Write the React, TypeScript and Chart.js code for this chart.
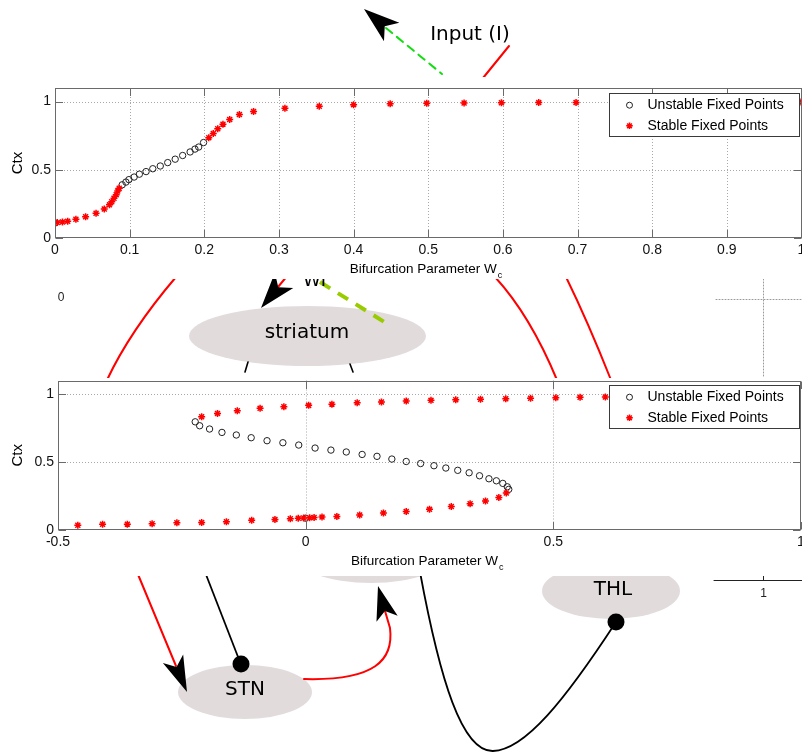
import React, { useEffect, useRef } from "react";
import { Chart, registerables } from "chart.js";

Chart.register(...registerables);

// ---------------- data ----------------
const topUnstableX = [0, 0.09, 0.095, 0.099, 0.106, 0.113, 0.122, 0.131, 0.141, 0.151, 0.161, 0.171, 0.181, 0.1875, 0.1925, 0.199];
const topUnstableY = [0.11, 0.39, 0.41, 0.428, 0.447, 0.468, 0.487, 0.508, 0.528, 0.553, 0.578, 0.605, 0.631, 0.652, 0.667, 0.7];
const topStableX = [0.003, 0.01, 0.017, 0.028, 0.041, 0.055, 0.066, 0.073, 0.076, 0.079, 0.082, 0.084, 0.086, 0.206, 0.212, 0.218, 0.225, 0.234, 0.247, 0.266, 0.308, 0.354, 0.4, 0.449, 0.498, 0.548, 0.598, 0.648, 0.698, 0.748, 0.798, 0.848, 0.898, 0.948, 0.998];
const topStableY = [0.113, 0.117, 0.123, 0.138, 0.156, 0.181, 0.213, 0.243, 0.266, 0.291, 0.318, 0.345, 0.365, 0.736, 0.766, 0.801, 0.835, 0.869, 0.906, 0.928, 0.952, 0.966, 0.978, 0.984, 0.988, 0.99, 0.992, 0.993, 0.994, 0.995, 0.996, 0.996, 0.997, 0.997, 0.998];

const bottomUnstableX = [0, -0.223, -0.214, -0.194, -0.169, -0.14, -0.11, -0.078, -0.046, -0.014, 0.019, 0.051, 0.082, 0.114, 0.144, 0.174, 0.203, 0.232, 0.259, 0.283, 0.307, 0.33, 0.351, 0.37, 0.385, 0.398, 0.407, 0.41];
const bottomUnstableY = [0.087, 0.796, 0.767, 0.743, 0.718, 0.699, 0.679, 0.657, 0.642, 0.625, 0.603, 0.588, 0.574, 0.556, 0.542, 0.522, 0.504, 0.489, 0.473, 0.456, 0.439, 0.421, 0.399, 0.377, 0.362, 0.343, 0.318, 0.299];
const bottomStableX = [-0.46, -0.41, -0.36, -0.31, -0.26, -0.21, -0.16, -0.109, -0.062, -0.031, -0.015, -0.004, 0.008, 0.017, 0.033, 0.063, 0.109, 0.157, 0.203, 0.25, 0.294, 0.332, 0.363, 0.39, 0.405, -0.21, -0.178, -0.138, -0.092, -0.044, 0.006, 0.053, 0.104, 0.153, 0.203, 0.253, 0.303, 0.353, 0.404, 0.454, 0.505, 0.554, 0.605, 0.655, 0.705, 0.755, 0.805, 0.855, 0.905, 0.955, 1.0];
const bottomStableY = [0.035, 0.042, 0.043, 0.046, 0.053, 0.056, 0.061, 0.071, 0.078, 0.083, 0.086, 0.088, 0.09, 0.092, 0.095, 0.1, 0.11, 0.125, 0.136, 0.152, 0.173, 0.194, 0.213, 0.239, 0.272, 0.833, 0.858, 0.877, 0.895, 0.907, 0.917, 0.926, 0.936, 0.942, 0.949, 0.954, 0.958, 0.962, 0.966, 0.969, 0.973, 0.976, 0.979, 0.981, 0.983, 0.985, 0.986, 0.988, 0.989, 0.99, 0.991];

const topXTicks = [0, 0.1, 0.2, 0.3, 0.4, 0.5, 0.6, 0.7, 0.8, 0.9, 1];
const topXTickLabels = ["0", "0.1", "0.2", "0.3", "0.4", "0.5", "0.6", "0.7", "0.8", "0.9", "1"];
const bottomXTicks = [-0.5, 0, 0.5, 1];
const bottomXTickLabels = ["-0.5", "0", "0.5", "1"];
const yTicks = [0, 0.5, 1];
const yTickLabels = ["0", "0.5", "1"];

const legendLabels = ["Unstable Fixed Points", "Stable Fixed Points"];
const xTitleMain = "Bifurcation Parameter W";
const xTitleSub = "c";
const yTitle = "Ctx";

const diagramLabels = { input: "Input (I)", striatum: "striatum", stn: "STN", thl: "THL", w: "WI" };

// ---------------- styling ----------------
const FONT = '"Liberation Sans", Arial, Helvetica, sans-serif';
const DFONT = '"DejaVu Sans", Verdana, sans-serif';
const FRAME = "#6a6a6a";
const ELLIPSE = "#e1dbdc";

const zip = (xs: number[], ys: number[]) => xs.map((x, i) => ({ x, y: ys[i] }));

function drawStar(ctx: CanvasRenderingContext2D, x: number, y: number, r: number) {
  ctx.beginPath();
  ctx.moveTo(x - r, y); ctx.lineTo(x + r, y);
  ctx.moveTo(x, y - r); ctx.lineTo(x, y + r);
  const d = r * 0.707;
  ctx.moveTo(x - d, y - d); ctx.lineTo(x + d, y + d);
  ctx.moveTo(x - d, y + d); ctx.lineTo(x + d, y - d);
  ctx.stroke();
}

function makePlotPlugin(xTicks: number[], tickLen: number) {
  return {
    id: "matlabAxes",
    beforeDraw(chart: any) {
      const ctx = chart.ctx as CanvasRenderingContext2D;
      ctx.save();
      ctx.fillStyle = "#ffffff";
      ctx.fillRect(0, 0, chart.width, chart.height);
      ctx.restore();
    },
    beforeDatasetsDraw(chart: any) {
      const ctx = chart.ctx as CanvasRenderingContext2D;
      const ca = chart.chartArea;
      const xs = chart.scales.x;
      const ys = chart.scales.y;
      ctx.save();
      ctx.strokeStyle = "#a8a8a8";
      ctx.lineWidth = 1;
      ctx.setLineDash([1, 2]);
      for (const v of xTicks) {
        const px = Math.round(xs.getPixelForValue(v)) + 0.5;
        if (px <= ca.left + 1 || px >= ca.right - 1) continue;
        ctx.beginPath(); ctx.moveTo(px, ca.top); ctx.lineTo(px, ca.bottom); ctx.stroke();
      }
      for (const v of yTicks) {
        const py = Math.round(ys.getPixelForValue(v)) + 0.5;
        if (py <= ca.top + 1 || py >= ca.bottom - 1) continue;
        ctx.beginPath(); ctx.moveTo(ca.left, py); ctx.lineTo(ca.right, py); ctx.stroke();
      }
      ctx.restore();
    },
    afterDatasetsDraw(chart: any) {
      const ctx = chart.ctx as CanvasRenderingContext2D;
      const ca = chart.chartArea;
      const xs = chart.scales.x;
      const ys = chart.scales.y;
      ctx.save();
      ctx.strokeStyle = FRAME;
      ctx.lineWidth = 1;
      const l = Math.round(ca.left) + 0.5, r = Math.round(ca.right) - 0.5;
      const t = Math.round(ca.top) + 0.5, b = Math.round(ca.bottom) - 0.5;
      ctx.strokeRect(l, t, r - l, b - t);
      ctx.beginPath();
      for (const v of xTicks) {
        const px = Math.round(xs.getPixelForValue(v)) + 0.5;
        ctx.moveTo(px, b); ctx.lineTo(px, b - tickLen);
        ctx.moveTo(px, t); ctx.lineTo(px, t + tickLen);
      }
      for (const v of yTicks) {
        const py = Math.round(ys.getPixelForValue(v)) + 0.5;
        ctx.moveTo(l, py); ctx.lineTo(l + tickLen, py);
        ctx.moveTo(r, py); ctx.lineTo(r - tickLen, py);
      }
      ctx.stroke();
      ctx.restore();
    },
    afterDraw(chart: any) {
      const ctx = chart.ctx as CanvasRenderingContext2D;
      const ca = chart.chartArea;
      const ds = chart.data.datasets;
      // legend
      ctx.save();
      const bw = 190, bh = 43;
      const bx = Math.round(ca.right - 2.5 - bw) + 0.5;
      const by = Math.round(ca.top + 4.6) + 0.5;
      ctx.fillStyle = "#ffffff";
      ctx.fillRect(bx, by, bw, bh);
      ctx.strokeStyle = "#3a3a3a";
      ctx.lineWidth = 1;
      ctx.strokeRect(bx, by, bw, bh);
      const rows = [by + 11.7, by + 32.3];
      ctx.strokeStyle = ds[0].borderColor;
      ctx.lineWidth = 1;
      ctx.beginPath(); ctx.arc(bx + 20, rows[0], 3, 0, Math.PI * 2); ctx.stroke();
      ctx.strokeStyle = ds[1].borderColor;
      ctx.lineWidth = 1.5;
      drawStar(ctx, bx + 20, rows[1], 3.3);
      ctx.fillStyle = "#000";
      ctx.font = `14px ${FONT}`;
      ctx.textBaseline = "middle";
      ctx.textAlign = "left";
      ctx.fillText(ds[0].label, bx + 38, rows[0]);
      ctx.fillText(ds[1].label, bx + 38, rows[1]);
      // x title with subscript
      ctx.font = `13.5px ${FONT}`;
      ctx.textBaseline = "alphabetic";
      const w = ctx.measureText(xTitleMain).width;
      const cx = (ca.left + ca.right) / 2 - 5;
      const x0 = cx - w / 2;
      const base = ca.bottom + 35;
      ctx.fillText(xTitleMain, x0, base);
      ctx.font = `9px ${FONT}`;
      ctx.fillText(xTitleSub, x0 + w + 1, base + 5);
      // y title
      ctx.translate(18, (ca.top + ca.bottom) / 2);
      ctx.rotate(-Math.PI / 2);
      ctx.font = `15px ${FONT}`;
      ctx.textAlign = "center";
      ctx.textBaseline = "middle";
      ctx.fillText(yTitle, 0, 0);
      ctx.restore();
    },
  };
}

function makeChart(
  canvas: HTMLCanvasElement,
  cfg: {
    unstable: { x: number; y: number }[];
    stable: { x: number; y: number }[];
    xMin: number; xMax: number;
    xTicks: number[]; xLabels: string[];
    padding: { top: number; right: number; left: number; bottom: number };
    yWidth: number; xHeight: number;
  }
) {
  const tickFont = { family: FONT, size: 14 };
  return new Chart(canvas, {
    type: "scatter",
    data: {
      datasets: [
        {
          label: legendLabels[0],
          data: cfg.unstable,
          pointStyle: "circle",
          pointRadius: 3.2,
          borderColor: "#222222",
          backgroundColor: "rgba(0,0,0,0)",
          borderWidth: 1,
          order: 1,
        },
        {
          label: legendLabels[1],
          data: cfg.stable,
          pointStyle: "star",
          pointRadius: 3.5,
          borderColor: "#ff0000",
          backgroundColor: "#ff0000",
          borderWidth: 1.5,
          order: 0,
        },
      ],
    } as any,
    options: {
      responsive: false,
      maintainAspectRatio: false,
      animation: false,
      devicePixelRatio: 1,
      events: [],
      layout: { padding: cfg.padding, autoPadding: false } as any,
      plugins: { legend: { display: false }, tooltip: { enabled: false }, title: { display: false } },
      scales: {
        x: {
          type: "linear",
          min: cfg.xMin,
          max: cfg.xMax,
          grid: { display: false, drawTicks: false },
          border: { display: false },
          ticks: {
            padding: 4,
            font: tickFont,
            color: "#111",
            maxRotation: 0,
            autoSkip: false,
            callback: (_v: any, i: number) => cfg.xLabels[i],
          },
          afterBuildTicks: (s: any) => { s.ticks = cfg.xTicks.map((v) => ({ value: v })); },
          afterFit: (s: any) => {
            s.height = cfg.xHeight;
            s.paddingLeft = 0; s.paddingRight = 0; s.paddingTop = 0; s.paddingBottom = 0;
          },
        },
        y: {
          type: "linear",
          min: 0,
          max: 1.1,
          grid: { display: false, drawTicks: false },
          border: { display: false },
          ticks: {
            padding: 4,
            font: tickFont,
            color: "#111",
            autoSkip: false,
            callback: (_v: any, i: number) => yTickLabels[i],
          },
          afterBuildTicks: (s: any) => { s.ticks = yTicks.map((v) => ({ value: v })); },
          afterFit: (s: any) => {
            s.width = cfg.yWidth;
            s.paddingLeft = 0; s.paddingRight = 0; s.paddingTop = 0; s.paddingBottom = 0;
          },
        },
      } as any,
    } as any,
    plugins: [makePlotPlugin(cfg.xTicks, 7.5)] as any,
  });
}

// -------- background diagram helpers --------
function arrowHead(ctx: CanvasRenderingContext2D, tx: number, ty: number, dx: number, dy: number, len: number, half: number, notch: number) {
  const n = Math.hypot(dx, dy);
  dx /= n; dy /= n;
  const px = -dy, py = dx;
  const bx = tx + dx * len, by = ty + dy * len;
  ctx.beginPath();
  ctx.moveTo(tx, ty);
  ctx.lineTo(bx + px * half, by + py * half);
  ctx.lineTo(tx + dx * notch, ty + dy * notch);
  ctx.lineTo(bx - px * half, by - py * half);
  ctx.closePath();
  ctx.fillStyle = "#000";
  ctx.fill();
}

function ellipse(ctx: CanvasRenderingContext2D, cx: number, cy: number, rx: number, ry: number) {
  ctx.beginPath();
  ctx.ellipse(cx, cy, rx, ry, 0, 0, Math.PI * 2);
  ctx.fillStyle = ELLIPSE;
  ctx.fill();
}

function dot(ctx: CanvasRenderingContext2D, x: number, y: number, r: number) {
  ctx.beginPath();
  ctx.arc(x, y, r, 0, Math.PI * 2);
  ctx.fillStyle = "#000";
  ctx.fill();
}

function drawDiagram(ctx: CanvasRenderingContext2D, w: number, h: number) {
  ctx.save();
  ctx.fillStyle = "#fff";
  ctx.fillRect(0, 0, w, h);

  // ellipses
  ellipse(ctx, 307.5, 336, 118.5, 30);
  ellipse(ctx, 371, 553, 78, 30);
  ellipse(ctx, 245, 692, 67, 27);
  ellipse(ctx, 611, 591, 69, 28);

  ctx.lineCap = "round";
  // top green dashed input
  ctx.strokeStyle = "#11dd11";
  ctx.lineWidth = 2;
  ctx.setLineDash([8, 6]);
  ctx.beginPath(); ctx.moveTo(386, 28); ctx.lineTo(442, 74); ctx.stroke();
  ctx.setLineDash([]);
  arrowHead(ctx, 364, 9, 0.768, 0.64, 36, 12, 27);
  // top red line
  ctx.strokeStyle = "#ff0000";
  ctx.lineWidth = 2;
  ctx.beginPath(); ctx.moveTo(483, 78); ctx.lineTo(509, 46); ctx.stroke();

  // middle region
  ctx.strokeStyle = "#ff0000";
  ctx.beginPath(); ctx.moveTo(176, 277); ctx.quadraticCurveTo(130, 331, 107, 380); ctx.stroke();
  ctx.beginPath(); ctx.moveTo(495, 277); ctx.quadraticCurveTo(530, 315, 557, 380); ctx.stroke();
  ctx.beginPath(); ctx.moveTo(566, 277); ctx.quadraticCurveTo(588, 322, 611, 380); ctx.stroke();
  ctx.beginPath(); ctx.moveTo(278, 287); ctx.lineTo(297, 264); ctx.stroke();
  arrowHead(ctx, 261, 308, 0.64, -0.768, 36, 12, 27);
  ctx.strokeStyle = "#99cc00";
  ctx.lineWidth = 4;
  ctx.lineCap = "butt";
  ctx.setLineDash([12, 9]);
  ctx.beginPath(); ctx.moveTo(320, 282); ctx.lineTo(386, 323); ctx.stroke();
  ctx.setLineDash([]);
  ctx.lineCap = "round";
  ctx.strokeStyle = "#000";
  ctx.lineWidth = 1.6;
  ctx.beginPath(); ctx.moveTo(248, 362); ctx.lineTo(245, 372); ctx.stroke();
  ctx.beginPath(); ctx.moveTo(350, 364); ctx.lineTo(353, 372); ctx.stroke();

  // remnant axis pieces
  ctx.strokeStyle = "#999";
  ctx.lineWidth = 1;
  ctx.setLineDash([1, 2]);
  ctx.beginPath(); ctx.moveTo(763.5, 279); ctx.lineTo(763.5, 378); ctx.stroke();
  ctx.beginPath(); ctx.moveTo(716, 299.5); ctx.lineTo(802, 299.5); ctx.stroke();
  ctx.setLineDash([]);
  ctx.strokeStyle = "#222";
  ctx.beginPath(); ctx.moveTo(714, 580.5); ctx.lineTo(802, 580.5); ctx.moveTo(763.5, 574); ctx.lineTo(763.5, 580.5); ctx.stroke();
  ctx.fillStyle = "#222";
  ctx.font = `12px ${FONT}`;
  ctx.textAlign = "center";
  ctx.textBaseline = "middle";
  ctx.fillText("1", 763.5, 594);
  ctx.fillText("0", 61, 298);

  // lower region lines
  ctx.strokeStyle = "#ff0000";
  ctx.lineWidth = 2;
  ctx.beginPath(); ctx.moveTo(137, 572); ctx.lineTo(176, 666); ctx.stroke();
  arrowHead(ctx, 187, 692, -0.388, -0.921, 36, 11, 27);
  ctx.beginPath(); ctx.moveTo(304, 679); ctx.bezierCurveTo(375, 681, 394, 660, 390, 628); ctx.lineTo(385, 611); ctx.stroke();
  arrowHead(ctx, 378, 586, 0.267, 0.964, 34, 11, 26);
  ctx.strokeStyle = "#000";
  ctx.lineWidth = 1.8;
  ctx.beginPath(); ctx.moveTo(205, 572); ctx.lineTo(240, 662); ctx.stroke();
  ctx.beginPath(); ctx.moveTo(420, 572); ctx.bezierCurveTo(440, 680, 462, 752, 493, 751); ctx.bezierCurveTo(525, 750, 565, 700, 616, 622); ctx.stroke();
  dot(ctx, 241, 664, 8.5);
  dot(ctx, 616, 622, 8.5);

  // labels
  ctx.fillStyle = "#000";
  ctx.font = `20px ${DFONT}`;
  ctx.textAlign = "center";
  ctx.textBaseline = "middle";
  ctx.fillText(diagramLabels.input, 470, 35);
  ctx.fillText(diagramLabels.striatum, 307, 333);
  ctx.fillText(diagramLabels.stn, 245, 690);
  ctx.fillText(diagramLabels.thl, 613, 590);
  ctx.font = `18px ${DFONT}`;
  ctx.textAlign = "left";
  ctx.textBaseline = "alphabetic";
  ctx.fillText(diagramLabels.w, 303, 286);
  ctx.restore();
}

export default function App() {
  const bgRef = useRef<HTMLCanvasElement>(null);
  const topRef = useRef<HTMLCanvasElement>(null);
  const botRef = useRef<HTMLCanvasElement>(null);

  useEffect(() => {
    const bg = new Chart(bgRef.current as HTMLCanvasElement, {
      type: "scatter",
      data: { datasets: [] },
      options: {
        responsive: false,
        animation: false,
        devicePixelRatio: 1,
        events: [],
        plugins: { legend: { display: false }, tooltip: { enabled: false } },
        scales: { x: { display: false }, y: { display: false } },
      } as any,
      plugins: [
        {
          id: "diagram",
          beforeDraw(chart: any) {
            drawDiagram(chart.ctx, chart.width, chart.height);
          },
        },
      ] as any,
    });

    const top = makeChart(topRef.current as HTMLCanvasElement, {
      unstable: zip(topUnstableX, topUnstableY),
      stable: zip(topStableX, topStableY),
      xMin: 0, xMax: 1,
      xTicks: topXTicks, xLabels: topXTickLabels,
      padding: { top: 11, right: 0.5, left: 0, bottom: 0 },
      yWidth: 55, xHeight: 41,
    });

    const bot = makeChart(botRef.current as HTMLCanvasElement, {
      unstable: zip(bottomUnstableX, bottomUnstableY),
      stable: zip(bottomStableX, bottomStableY),
      xMin: -0.5, xMax: 1,
      xTicks: bottomXTicks, xLabels: bottomXTickLabels,
      padding: { top: 2.5, right: 1, left: 0, bottom: 0 },
      yWidth: 58, xHeight: 46,
    });

    return () => {
      bg.destroy();
      top.destroy();
      bot.destroy();
    };
  }, []);

  return (
    <div style={{ position: "absolute", left: 0, top: 0, width: 802, height: 752, overflow: "hidden", background: "#fff" }}>
      <canvas ref={bgRef} width={802} height={752} style={{ position: "absolute", left: 0, top: 0 }} />
      <canvas ref={topRef} width={802} height={202} style={{ position: "absolute", left: 0, top: 77 }} />
      <canvas ref={botRef} width={802} height={198} style={{ position: "absolute", left: 0, top: 378 }} />
    </div>
  );
}
